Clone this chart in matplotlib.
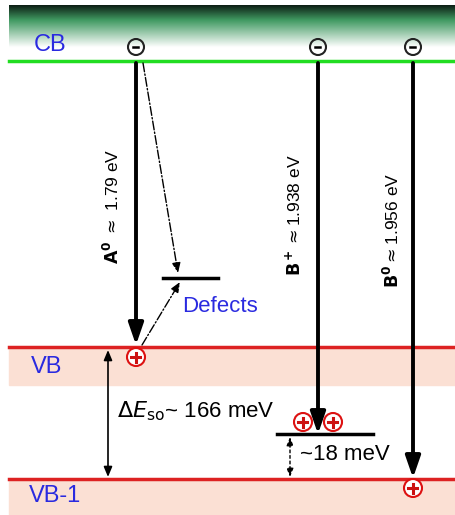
import matplotlib.pyplot as plt
import numpy as np
from matplotlib.patches import Circle, Rectangle

plt.rcParams['font.family'] = ['Liberation Sans', 'DejaVu Sans']

# band levels (pixel rows of the sketch)
band_names = ["CB", "VB", "VB-1"]
band_y = [61, 347, 479]
band_colors = ["#22dd22", "#dd2222", "#dd2222"]

# transitions: label, x, start, end
trans_labels = [r"$\mathbf{A^0}$ $\approx$ 1.79 eV", r"$\mathbf{B^+}$$\approx$1.938 eV",
                r"$\mathbf{B^0}$$\approx$1.956 eV"]
trans_x = [136, 318, 413]
trans_end = [345, 434, 478]
label_x = [112, 294, 392]
label_y = [206, 215, 230]

defect_y = 278
acceptor_y = 434

fig = plt.figure(figsize=(4.56, 5.15), dpi=100)
ax = fig.add_axes([0, 0, 1, 1])
ax.set_xlim(0, 456)
ax.set_ylim(515, 0)
ax.axis("off")

# gradient at top of CB
grad = np.linspace(0, 1, 100).reshape(-1, 1)
cols = np.zeros((100, 1, 3))
t = np.clip(grad * 1.3, 0, 1)
dark = np.array([0.05, 0.12, 0.08])
mid = np.array([0.25, 0.6, 0.38])
white = np.array([1, 1, 1])
for i in range(100):
    s = t[i, 0]
    if s < 0.35:
        cols[i, 0] = dark + (mid - dark) * s / 0.35
    else:
        cols[i, 0] = mid + (white - mid) * (s - 0.35) / 0.65
ax.imshow(cols, extent=[9, 456, 60, 5], aspect="auto", zorder=0)

# pink bands under VB and VB-1
ax.add_patch(Rectangle((9, band_y[1]), 447, 38, color="#fbe0d4", zorder=0))
ax.add_patch(Rectangle((9, band_y[2]), 447, 40, color="#fbe0d4", zorder=0))

for name, y, c in zip(band_names, band_y, band_colors):
    ax.plot([9, 456], [y, y], color=c, lw=2.5, zorder=2)

ax.text(34, 45, "CB", color="#2a2ae0", fontsize=17, va="center", ha="left")
ax.text(31, 367, "VB", color="#2a2ae0", fontsize=17, va="center", ha="left")
ax.text(29, 496, "VB-1", color="#2a2ae0", fontsize=17, va="center", ha="left")

# main transitions
for x, y2 in zip(trans_x, trans_end):
    ax.annotate("", xy=(x, y2), xytext=(x, 63),
                arrowprops=dict(arrowstyle="-|>,head_length=1.3,head_width=0.45",
                                lw=2.8, color="black", shrinkA=0, shrinkB=0), zorder=3)

for lab, x, y in zip(trans_labels, label_x, label_y):
    ax.text(x, y, lab, rotation=90, fontsize=12.5, ha="center", va="center")

# electrons
for x in trans_x:
    ax.add_patch(Circle((x, 47), 8, fill=False, ec="#222222", lw=1.5, zorder=4))
    ax.plot([x - 2.5, x + 2.5], [47, 47], color="black", lw=1.8, zorder=4)

# holes
def hole(x, y):
    ax.add_patch(Circle((x, y), 9, fc="white", ec="#dd1111", lw=1.5, zorder=5))
    ax.plot([x - 4.5, x + 4.5], [y, y], color="#cc1111", lw=2.2, zorder=6)
    ax.plot([x, x], [y - 4.5, y + 4.5], color="#cc1111", lw=2.2, zorder=6)

hole(136, 357)
hole(303, 422)
hole(333, 422)
hole(413, 488)

# defects
ax.plot([163, 218], [defect_y, defect_y], color="black", lw=2.5, zorder=3)
ax.text(182, 307, "Defects", color="#2a2ae0", fontsize=16, va="center", ha="left")
ax.annotate("", xy=(178, 273), xytext=(143, 63),
            arrowprops=dict(arrowstyle="-|>,head_length=0.6,head_width=0.25",
                            lw=1, ls="-.", color="black", shrinkA=0, shrinkB=0))
ax.annotate("", xy=(180, 282), xytext=(142, 345),
            arrowprops=dict(arrowstyle="-|>,head_length=0.6,head_width=0.25",
                            lw=1, ls="-.", color="black", shrinkA=0, shrinkB=0))

# acceptor level
ax.plot([277, 373], [acceptor_y, acceptor_y], color="black", lw=2.5, zorder=3)
ax.annotate("", xy=(290, 477), xytext=(290, 437),
            arrowprops=dict(arrowstyle="<|-|>,head_length=0.5,head_width=0.2",
                            lw=1, ls=(0, (2, 2)), color="black", shrinkA=0, shrinkB=0))
ax.text(300, 454, "~18 meV", fontsize=16, va="center", ha="left")

# spin-orbit splitting
ax.annotate("", xy=(108, 477), xytext=(108, 350),
            arrowprops=dict(arrowstyle="<|-|>,head_length=0.6,head_width=0.25",
                            lw=1.2, color="black", shrinkA=0, shrinkB=0))
ax.text(117, 411, r"$\it{\Delta E}_{\rm so}$~ 166 meV", fontsize=16, va="center", ha="left")

fig.savefig("out.png", dpi=100)
